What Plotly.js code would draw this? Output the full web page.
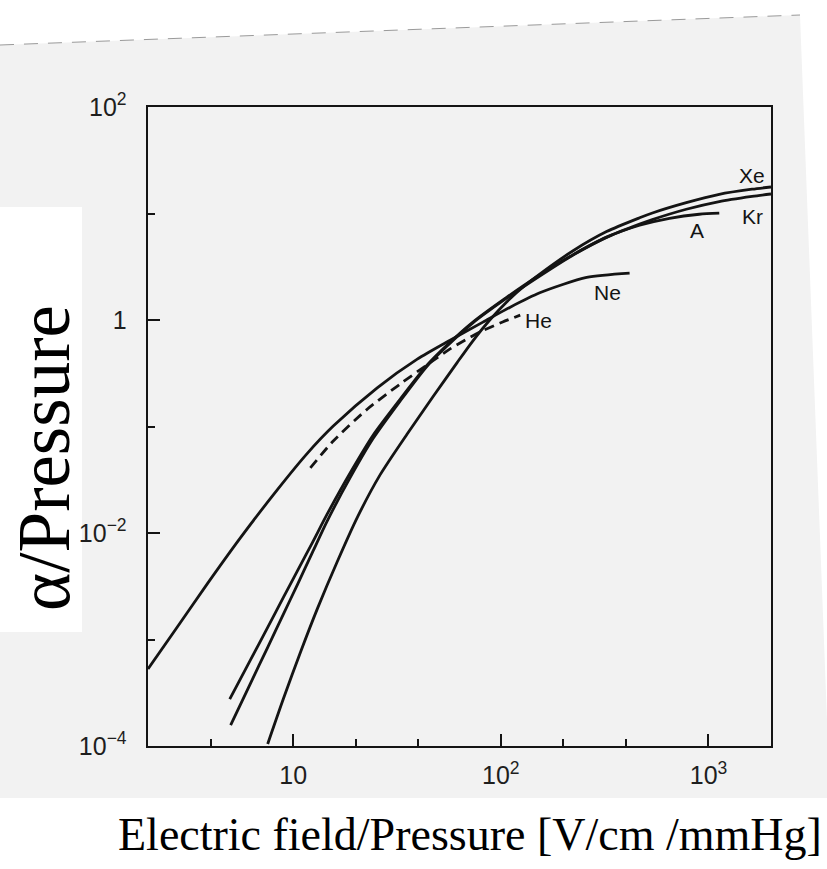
<!DOCTYPE html>
<html>
<head>
<meta charset="utf-8">
<script src="https://cdn.plot.ly/plotly-3.0.1.min.js"></script>
<style>
  html, body { margin: 0; padding: 0; background: #ffffff; }
  #chart { width: 827px; height: 869px; }
</style>
</head>
<body>
<div id="chart"></div>
<script>
// ---- data (E/p in V/cm/mmHg, alpha/p) ----
const neX = [2.0, 2.72, 3.88, 5.58, 8.42, 11.7, 15.6, 25.4, 39.6, 57.0, 82.0, 111, 154, 259, 417];
const neY = [5.28e-4, 1.25e-3, 3.38e-3, 9.04e-3, 0.0257, 0.0560, 0.101, 0.231, 0.429, 0.646, 0.955, 1.32, 1.80, 2.51, 2.76];

const heX = [12.1, 15.6, 22.8, 32.8, 44.2, 57.0, 79.4, 102, 124];
const heY = [0.0408, 0.0731, 0.146, 0.251, 0.380, 0.535, 0.771, 0.957, 1.11];

const arX = [4.95, 6.24, 7.54, 9.0, 10.5, 12.4, 14.6, 18.9, 24.3, 32.8, 44.2, 55.1, 73.4, 107, 154, 222, 323, 466, 649, 903, 1127];
const arY = [2.76e-4, 6.47e-4, 1.30e-3, 2.51e-3, 4.44e-3, 8.18e-3, 0.0151, 0.0372, 0.0832, 0.181, 0.378, 0.582, 0.957, 1.64, 2.65, 4.09, 6.00, 7.76, 9.02, 9.84, 10.07];

const krX = [5.0, 6.24, 7.54, 9.0, 10.5, 12.4, 14.6, 18.9, 24.3, 32.8, 44.2, 55.1, 73.4, 107, 154, 222, 323, 466, 537, 782, 1127, 1622, 2000];
const krY = [1.57e-4, 3.90e-4, 8.45e-4, 1.75e-3, 3.30e-3, 6.61e-3, 0.0130, 0.0336, 0.0774, 0.174, 0.370, 0.570, 0.94, 1.61, 2.59, 4.06, 5.97, 7.94, 8.77, 10.96, 12.94, 14.45, 15.24];

const xeX = [7.54, 9.0, 10.9, 13.1, 16.3, 20.4, 26.3, 35.4, 47.2, 61.6, 73.4, 88.7, 107, 130.6, 154, 222, 323, 466, 537, 782, 1127, 1622, 2000];
const xeY = [1.045e-4, 2.82e-4, 7.80e-4, 1.96e-3, 5.37e-3, 0.0141, 0.0355, 0.0851, 0.191, 0.398, 0.638, 1.005, 1.486, 2.11, 2.70, 4.45, 6.76, 9.12, 10.12, 12.65, 15.14, 16.9, 17.74];

const xTickVals = [10, 100, 1000];
const xTickText = ['10', '10<sup>2</sup>', '10<sup>3</sup>'];
const xMinorVals = [4, 20, 40, 200, 400];
const yTickVals = [1e-4, 1e-2, 1, 100];
const yTickText = ['10<sup>\u22124</sup>', '10<sup>\u22122</sup>', '1', '10<sup>2</sup>'];
const yMinorVals = [1e-3, 0.1, 10];

const gasLabels = ['Xe', 'Kr', 'A', 'Ne', 'He'];

// ---- styling ----
const ink = '#141414';
const lineW = 2.8;
function curve(name, x, y, dash) {
  return {
    type: 'scatter', mode: 'lines', name: name, x: x, y: y,
    line: { color: ink, width: lineW, shape: 'spline', smoothing: 0.7, dash: dash || 'solid' },
    hoverinfo: 'x+y+name', showlegend: false
  };
}
const traces = [
  curve('Ne', neX, neY),
  curve('He', heX, heY, '10px,6px'),
  curve('A', arX, arY),
  curve('Kr', krX, krY),
  curve('Xe', xeX, xeY)
];

const W = 827, H = 869, L = 148, R = 56, T = 107, B = 123;
const pw = W - L - R, ph = H - T - B;
const px = v => (v - L) / pw;             // pixel x -> paper x
const py = v => (H - B - v) / ph;         // pixel y -> paper y

const labelPos = [[752, 175], [752, 216], [697, 230], [607, 292], [538, 320]];
const annotations = gasLabels.map((t, i) => ({
  text: t, xref: 'paper', yref: 'paper',
  x: px(labelPos[i][0]), y: py(labelPos[i][1]),
  xanchor: 'center', yanchor: 'middle', showarrow: false,
  font: { family: 'Liberation Sans, Arial, sans-serif', size: 21, color: ink }
}));
annotations.push({
  text: 'Electric field/Pressure [V/cm /mmHg]', xref: 'paper', yref: 'paper',
  x: px(470), y: py(834), xanchor: 'center', yanchor: 'middle', showarrow: false,
  font: { family: 'Liberation Serif, Times New Roman, serif', size: 46, color: '#000' }
});
annotations.push({
  text: '\u03b1/Pressure', xref: 'paper', yref: 'paper', textangle: -90,
  x: px(45), y: py(458), xanchor: 'center', yanchor: 'middle', showarrow: false,
  font: { family: 'Liberation Serif, Times New Roman, serif', size: 73, color: '#000' }
});

const pageGray = '#f2f2f2';
const shapes = [
  { type: 'path', xref: 'paper', yref: 'paper', layer: 'below',
    path: `M ${px(-5)},${py(45.2)} L ${px(800)},${py(15)} L ${px(830)},${py(798)} L ${px(-5)},${py(798)} Z`,
    fillcolor: pageGray, line: { width: 0 } },
  { type: 'line', xref: 'paper', yref: 'paper', layer: 'below',
    x0: px(0), y0: py(45), x1: px(800), y1: py(15),
    line: { color: '#9a9a9a', width: 1, dash: '14px,10px' } },
  { type: 'rect', xref: 'paper', yref: 'paper', layer: 'below',
    x0: px(-5), x1: px(82), y0: py(632), y1: py(207),
    fillcolor: '#ffffff', line: { width: 0 } }
];

const axisCommon = {
  type: 'log', showgrid: false, zeroline: false,
  showline: true, linecolor: ink, linewidth: 2.4, mirror: true,
  ticks: 'inside', ticklen: 12, tickwidth: 2, tickcolor: ink,
  tickmode: 'array',
  tickfont: { family: 'Liberation Sans Narrow, Arial Narrow, Liberation Sans, sans-serif', size: 25, color: '#1e1e1e' },
  fixedrange: true
};

const layout = {
  width: W, height: H,
  margin: { l: L, r: R, t: T, b: B, pad: 0 },
  paper_bgcolor: '#ffffff', plot_bgcolor: 'rgba(0,0,0,0)',
  showlegend: false,
  xaxis: Object.assign({}, axisCommon, {
    range: [Math.log10(2), Math.log10(2000)],
    tickvals: xTickVals, ticktext: xTickText,
    ticklabelstandoff: 6,
    minor: { tickmode: 'array', tickvals: xMinorVals, ticks: 'inside', ticklen: 7, tickwidth: 2, tickcolor: ink, showgrid: false },
    title: { text: '' }
  }),
  yaxis: Object.assign({}, axisCommon, {
    range: [-4, 2],
    tickvals: yTickVals, ticktext: yTickText,
    ticklabelstandoff: 14,
    minor: { tickmode: 'array', tickvals: yMinorVals, ticks: 'inside', ticklen: 7, tickwidth: 2, tickcolor: ink, showgrid: false },
    title: { text: '' }
  }),
  annotations: annotations,
  shapes: shapes
};

Plotly.newPlot('chart', traces, layout, { displayModeBar: false, staticPlot: true });
</script>
</body>
</html>
